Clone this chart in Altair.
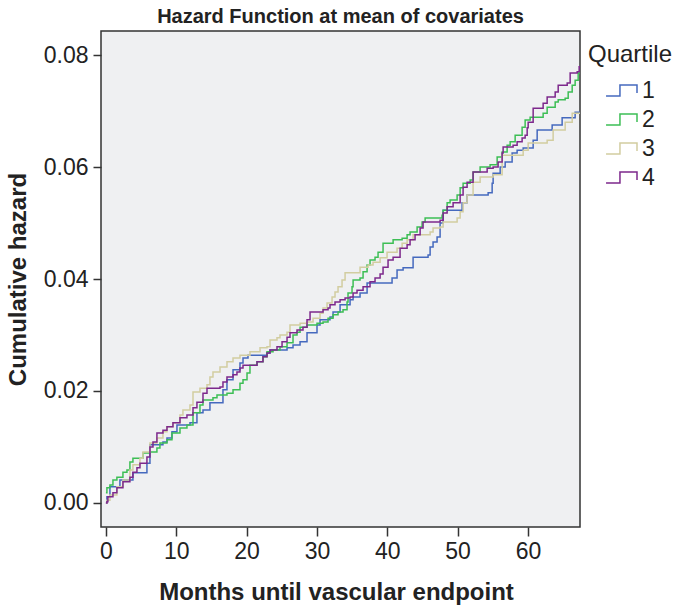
import altair as alt
import pandas as pd

# Quartile 1 (blue)
months_q1 = [0, 0.14, 0.57, 1.99, 3.84, 5.83, 6.26, 8.11, 8.68, 9.39, 10.10, 11.95, 12.94, 13.80, 14.79,
             16.64, 17.21, 18.07, 19.06, 19.49, 20.20, 22.90, 23.33, 25.75, 26.60, 27.60, 28.59, 30.01,
             30.44, 31.86, 32.29, 33.29, 34.71, 35.14, 36.13, 37.13, 40.68, 41.39, 42.25, 43.67, 45.80,
             46.09, 46.51, 47.08, 47.51, 47.94, 50.64, 51.35, 54.34, 54.91, 55.05, 56.05, 56.76, 57.75,
             58.46, 59.32, 60.74, 61.31, 63.44, 64.86, 66.71, 67.4]
haz_q1 = [0, 0.0011, 0.0029, 0.0041, 0.0054, 0.0071, 0.0104, 0.0109, 0.0116, 0.0127, 0.0139, 0.0143,
          0.0161, 0.0166, 0.0179, 0.0202, 0.0220, 0.0238, 0.0250, 0.0259, 0.0264, 0.0268, 0.0273, 0.0277,
          0.0282, 0.0288, 0.0304, 0.0318, 0.0327, 0.0332, 0.0341, 0.0354, 0.0363, 0.0368, 0.0375, 0.0393,
          0.0402, 0.0416, 0.0420, 0.0439, 0.0443, 0.0457, 0.0466, 0.0475, 0.0500, 0.0523, 0.0536, 0.0550,
          0.0554, 0.0571, 0.0589, 0.0600, 0.0609, 0.0625, 0.0630, 0.0634, 0.0648, 0.0666, 0.0675, 0.0688,
          0.0698, 0.0698]

# Quartile 2 (green)
months_q2 = [0, 0.14, 0.57, 1.00, 1.56, 2.42, 2.99, 3.41, 3.84, 5.26, 6.26, 7.25, 7.68, 8.68, 9.39, 10.53,
             11.52, 12.38, 13.37, 13.80, 15.22, 15.79, 17.21, 18.07, 19.06, 19.49, 20.06, 20.48, 21.48,
             22.33, 22.90, 23.76, 24.75, 25.75, 26.60, 27.17, 27.60, 28.59, 30.01, 30.87, 31.58, 32.29,
             33.00, 33.71, 34.28, 34.42, 34.99, 35.14, 36.13, 36.56, 37.13, 37.55, 38.26, 38.69, 39.40,
             40.83, 42.11, 42.82, 43.24, 44.24, 44.95, 45.38, 47.08, 47.79, 47.94, 48.51, 48.93, 49.93,
             50.36, 50.78, 51.78, 52.20, 53.20, 54.62, 55.62, 56.33, 57.04, 57.47, 58.18, 59.17, 59.60,
             60.31, 62.16, 62.73, 63.87, 64.30, 65.29, 65.72, 66.29, 66.71, 67.14, 67.4]
haz_q2 = [0.0018, 0.0027, 0.0032, 0.0041, 0.0046, 0.0055, 0.0059, 0.0073, 0.0080, 0.0089, 0.0091, 0.0098,
          0.0107, 0.0113, 0.0125, 0.0134, 0.0139, 0.0161, 0.0175, 0.0184, 0.0188, 0.0193, 0.0196, 0.0202,
          0.0214, 0.0220, 0.0232, 0.0246, 0.0252, 0.0261, 0.0270, 0.0273, 0.0279, 0.0286, 0.0300, 0.0305,
          0.0314, 0.0318, 0.0321, 0.0323, 0.0330, 0.0336, 0.0341, 0.0345, 0.0359, 0.0375, 0.0386, 0.0398,
          0.0402, 0.0413, 0.0425, 0.0434, 0.0439, 0.0448, 0.0464, 0.0470, 0.0473, 0.0479, 0.0484, 0.0493,
          0.0502, 0.0509, 0.0509, 0.0514, 0.0523, 0.0536, 0.0541, 0.0550, 0.0563, 0.0571, 0.0577, 0.0591,
          0.0600, 0.0604, 0.0618, 0.0627, 0.0639, 0.0645, 0.0657, 0.0671, 0.0684, 0.0689, 0.0696, 0.0707,
          0.0716, 0.0720, 0.0723, 0.0734, 0.0746, 0.0755, 0.0768, 0.0770]

# Quartile 3 (tan)
months_q3 = [0, 0.14, 0.57, 1.56, 2.42, 3.41, 3.84, 4.84, 5.26, 6.26, 7.25, 8.11, 8.68, 9.53, 10.53, 10.95,
             11.95, 12.38, 13.37, 14.37, 14.79, 15.22, 16.22, 17.21, 18.07, 19.06, 20.48, 21.91, 22.90,
             23.33, 24.32, 24.75, 25.75, 26.17, 27.60, 28.59, 29.45, 30.44, 30.87, 31.44, 32.15, 32.57,
             33.00, 33.57, 34.00, 36.13, 37.27, 37.98, 38.98, 39.97, 41.39, 42.11, 42.82, 43.67, 46.09,
             46.51, 47.51, 47.94, 49.93, 50.36, 50.78, 51.35, 52.20, 53.20, 55.05, 56.33, 59.32, 60.03,
             62.73, 63.58, 65.29, 66.29, 67.4]
haz_q3 = [0, 0.0005, 0.0014, 0.0029, 0.0041, 0.0059, 0.0068, 0.0080, 0.0091, 0.0107, 0.0116, 0.0127,
          0.0136, 0.0143, 0.0157, 0.0166, 0.0175, 0.0198, 0.0205, 0.0211, 0.0225, 0.0234, 0.0243, 0.0252,
          0.0259, 0.0264, 0.0270, 0.0277, 0.0279, 0.0291, 0.0295, 0.0300, 0.0305, 0.0318, 0.0321, 0.0323,
          0.0330, 0.0339, 0.0348, 0.0357, 0.0368, 0.0377, 0.0386, 0.0398, 0.0411, 0.0421, 0.0425, 0.0430,
          0.0438, 0.0448, 0.0455, 0.0464, 0.0470, 0.0479, 0.0484, 0.0491, 0.0493, 0.0502, 0.0509, 0.0520,
          0.0536, 0.0550, 0.0573, 0.0582, 0.0586, 0.0621, 0.0630, 0.0643, 0.0648, 0.0666, 0.0680, 0.0696,
          0.0696]

# Quartile 4 (purple)
months_q4 = [0, 0.14, 0.28, 1.00, 1.56, 2.42, 3.41, 3.84, 4.41, 4.84, 5.83, 6.26, 6.69, 7.25, 8.11, 8.68,
             9.53, 10.53, 11.52, 12.38, 12.94, 13.80, 14.37, 16.22, 16.64, 17.21, 18.07, 18.63, 19.06,
             19.49, 21.48, 22.33, 22.90, 23.33, 24.32, 25.04, 25.75, 26.17, 27.17, 28.02, 28.59, 29.02,
             30.87, 31.58, 31.86, 32.57, 33.29, 34.00, 34.71, 35.14, 35.70, 36.56, 37.55, 38.26, 38.98,
             39.40, 40.11, 40.83, 41.82, 42.82, 43.24, 43.95, 44.67, 45.09, 47.51, 47.94, 48.51, 49.36,
             50.36, 50.78, 51.35, 52.20, 54.20, 55.05, 55.76, 56.33, 56.47, 57.89, 58.46, 59.17, 59.60,
             59.89, 60.03, 60.74, 62.16, 62.73, 63.87, 64.30, 65.58, 66.00, 67.00, 67.28, 67.4]
haz_q4 = [0, 0.0002, 0.0011, 0.0018, 0.0027, 0.0038, 0.0046, 0.0055, 0.0063, 0.0071, 0.0082, 0.0100,
          0.0109, 0.0125, 0.0130, 0.0136, 0.0143, 0.0152, 0.0157, 0.0170, 0.0180, 0.0196, 0.0205, 0.0207,
          0.0216, 0.0225, 0.0229, 0.0234, 0.0241, 0.0246, 0.0252, 0.0261, 0.0268, 0.0273, 0.0279, 0.0288,
          0.0296, 0.0304, 0.0309, 0.0314, 0.0327, 0.0341, 0.0345, 0.0348, 0.0354, 0.0359, 0.0363, 0.0366,
          0.0368, 0.0375, 0.0380, 0.0386, 0.0395, 0.0402, 0.0409, 0.0421, 0.0434, 0.0439, 0.0455, 0.0461,
          0.0470, 0.0479, 0.0491, 0.0502, 0.0505, 0.0518, 0.0529, 0.0536, 0.0550, 0.0564, 0.0573, 0.0591,
          0.0598, 0.0600, 0.0609, 0.0625, 0.0636, 0.0639, 0.0645, 0.0652, 0.0657, 0.0670, 0.0680, 0.0705,
          0.0714, 0.0725, 0.0734, 0.0746, 0.0750, 0.0768, 0.0770, 0.0779, 0.0779]

quartiles = ["1", "2", "3", "4"]
colors = ["#4569BE", "#3DBE55", "#D2CDA0", "#7D288C"]
x_ticks = [0, 10, 20, 30, 40, 50, 60]
y_ticks = [0.00, 0.02, 0.04, 0.06, 0.08]

rows = []
for q, ms, hs in zip(quartiles, [months_q1, months_q2, months_q3, months_q4],
                     [haz_q1, haz_q2, haz_q3, haz_q4]):
    for m, h in zip(ms, hs):
        rows.append({"Quartile": q, "month": m, "hazard": h})
df = pd.DataFrame(rows)

FONT = "Liberation Sans"
# step-shaped legend glyph, drawn in the right part of its (wider) symbol box
step_path = "M-0.29,0.23 L0.29,0.23 L0.29,-0.23 L1,-0.23 L1,0.1"

chart = alt.Chart(df).mark_line(interpolate="step-after", strokeWidth=1.5, clip=True).encode(
    x=alt.X("month:Q", title="Months until vascular endpoint",
            scale=alt.Scale(domain=[-0.7, 67.4], nice=False, zero=False),
            axis=alt.Axis(values=x_ticks, format="d", tickSize=9, labelPadding=4,
                          titlePadding=17, titleX=235, domain=False, grid=False)),
    y=alt.Y("hazard:Q", title="Cumulative hazard",
            scale=alt.Scale(domain=[-0.0043, 0.0843], nice=False, zero=False),
            axis=alt.Axis(values=y_ticks, format=".2f", tickSize=8, labelPadding=5,
                          titlePadding=13, domain=False, grid=False)),
    color=alt.Color("Quartile:N", scale=alt.Scale(domain=quartiles, range=colors),
                    legend=alt.Legend(title="Quartile", orient="none", legendX=487, legendY=12,
                                      symbolType=step_path, symbolSize=2304, symbolStrokeWidth=1.5,
                                      clipHeight=29, rowPadding=0, labelOffset=4,
                                      titlePadding=9)),
    order=alt.Order("month:Q"),
).properties(
    width=479, height=496,
    title=alt.TitleParams("Hazard Function at mean of covariates", anchor="middle", offset=4),
    autosize=alt.AutoSizeParams(type="none"),
    padding={"left": 101, "top": 31, "right": 94, "bottom": 80},
).configure_view(
    fill="#EFF0F2", stroke="#333333", strokeWidth=1.5
).configure_axis(
    labelFont=FONT, titleFont=FONT, labelFontSize=23, titleFontSize=24,
    labelColor="#222222", titleColor="#222222", tickColor="#333333", tickWidth=1.5,
    titleFontWeight="bold"
).configure_title(
    font=FONT, fontSize=20, fontWeight="bold", color="#222222"
).configure_legend(
    titleFont=FONT, labelFont=FONT, titleFontSize=24, labelFontSize=23,
    titleFontWeight="normal", titleColor="#222222", labelColor="#222222"
)

chart.save("out.html", embed_options={"renderer": "svg", "actions": False})
